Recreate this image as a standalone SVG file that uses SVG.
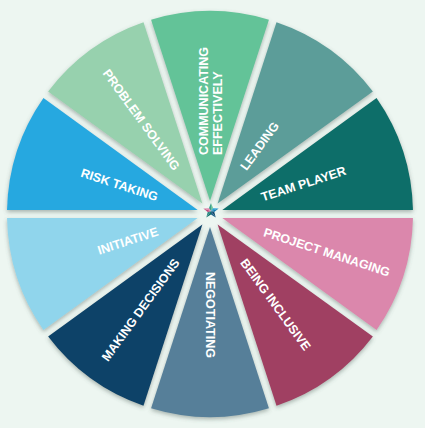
<svg xmlns="http://www.w3.org/2000/svg" width="425" height="428" viewBox="0 0 425 428">
  <defs>
    <filter id="sh" x="-20%" y="-20%" width="140%" height="140%">
      <feDropShadow dx="0" dy="2" stdDeviation="2" flood-color="#4f615a" flood-opacity="0.45"/>
    </filter>
    <style>
      .seg { filter: url(#sh); }
      .lbl { font-family: "Liberation Sans", Arial, sans-serif; font-weight: bold; font-size: 12.5px; fill: #ffffff; }
    </style>
  </defs>
  <rect x="0" y="0" width="425" height="428" fill="#edf6f1"/>

  <g id="team-player">
    <path class="seg" fill="#086e69" d="M222.31,210 L412.96,210 A203,203 0 0 0 376.55,97.94 Z"/>
    <text class="lbl" transform="translate(210 214) rotate(-18)" x="54" dy="0.36em">TEAM PLAYER</text>
  </g>
  <g id="leading">
    <path class="seg" fill="#5b9d99" d="M217.61,203.53 L372.85,91.46 A203,203 0 0 0 276.52,22.21 Z"/>
    <text class="lbl" transform="translate(210 214) rotate(-54)" x="56" dy="0.36em">LEADING</text>
  </g>
  <g id="communicating-effectively">
    <path class="seg" fill="#63c398" d="M210,201.06 L268.92,19.73 A203,203 0 0 0 151.08,19.73 Z"/>
    <text class="lbl" transform="translate(210 214) rotate(-90)" x="59" y="-7" dy="0.36em">COMMUNICATING</text>
    <text class="lbl" transform="translate(210 214) rotate(-90)" x="59" y="7" dy="0.36em">EFFECTIVELY</text>
  </g>
  <g id="problem-solving">
    <path class="seg" fill="#97d1ae" d="M202.39,203.53 L143.48,22.21 A203,203 0 0 0 48.15,91.46 Z"/>
    <text class="lbl" transform="translate(210 214) rotate(54)" x="-56" dy="0.36em" text-anchor="end">PROBLEM SOLVING</text>
  </g>
  <g id="risk-taking">
    <path class="seg" fill="#27a8e0" d="M197.69,210 L43.45,97.94 A203,203 0 0 0 7.04,210 Z"/>
    <text class="lbl" transform="translate(210 214) rotate(18)" x="-55" dy="0.36em" text-anchor="end">RISK TAKING</text>
  </g>
  <g id="initiative">
    <path class="seg" fill="#90d5ec" d="M197.69,218 L7.04,218 A203,203 0 0 0 43.45,330.06 Z"/>
    <text class="lbl" transform="translate(210 214) rotate(-18)" x="-55" dy="0.36em" text-anchor="end">INITIATIVE</text>
  </g>
  <g id="making-decisions">
    <path class="seg" fill="#0b4368" d="M202.39,224.47 L48.15,336.54 A203,203 0 0 0 143.48,405.79 Z"/>
    <text class="lbl" transform="translate(210 214) rotate(-54)" x="-57" dy="0.36em" text-anchor="end">MAKING DECISIONS</text>
  </g>
  <g id="negotiating">
    <path class="seg" fill="#567f99" d="M210,226.94 L151.08,408.27 A203,203 0 0 0 268.92,408.27 Z"/>
    <text class="lbl" transform="translate(210 214) rotate(90)" x="58" dy="0.36em">NEGOTIATING</text>
  </g>
  <g id="being-inclusive">
    <path class="seg" fill="#a03f62" d="M217.61,224.47 L276.52,405.79 A203,203 0 0 0 372.85,336.54 Z"/>
    <text class="lbl" transform="translate(210 214) rotate(54)" x="57" dy="0.36em">BEING INCLUSIVE</text>
  </g>
  <g id="project-managing">
    <path class="seg" fill="#db87ac" d="M222.31,218 L376.55,330.06 A203,203 0 0 0 412.96,218 Z"/>
    <text class="lbl" transform="translate(210 214) rotate(18)" x="57" dy="0.36em">PROJECT MANAGING</text>
  </g>

  <g id="star">
    <polygon fill="#6cc39b" points="211,211 211,203 213.1,208.2"/>
    <polygon fill="#3d9e8f" points="211,211 211,203 208.9,208.2"/>
    <polygon fill="#2aa3d8" points="211,211 218.6,208.5 213.1,208.2"/>
    <polygon fill="#1b7fb3" points="211,211 218.6,208.5 214.3,212.1"/>
    <polygon fill="#124a6e" points="211,211 215.7,217.5 214.3,212.1"/>
    <polygon fill="#1d5f86" points="211,211 215.7,217.5 211,214.5"/>
    <polygon fill="#0f6f6a" points="211,211 206.3,217.5 211,214.5"/>
    <polygon fill="#2f8c86" points="211,211 206.3,217.5 207.7,212.1"/>
    <polygon fill="#c24a7c" points="211,211 203.4,208.5 207.7,212.1"/>
    <polygon fill="#e08aae" points="211,211 203.4,208.5 208.9,208.2"/>
  </g>
</svg>
